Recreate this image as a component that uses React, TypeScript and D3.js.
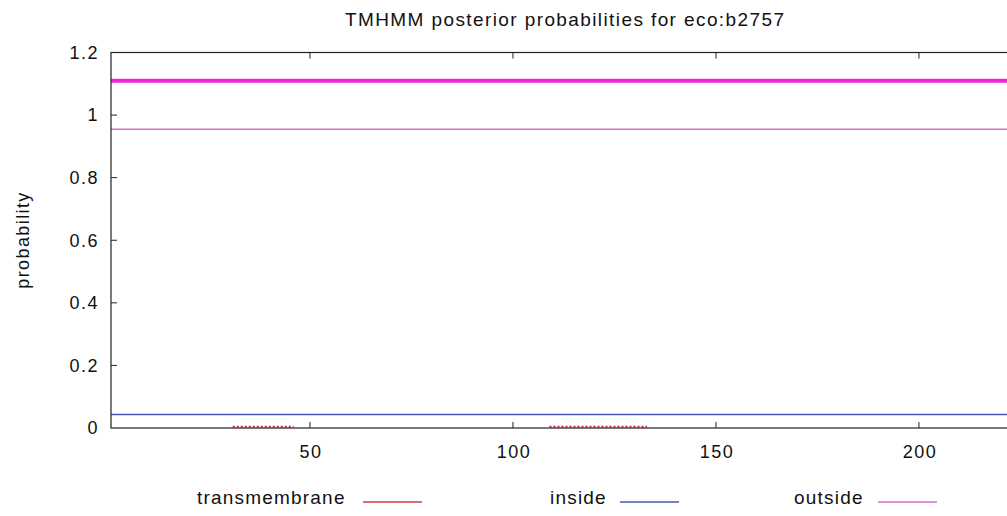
import React, { useEffect, useRef } from "react";
import * as d3 from "d3";

// residue ranges and probabilities
const xTicks = [50, 100, 150, 200];
const yTicks = [0, 0.2, 0.4, 0.6, 0.8, 1, 1.2];
const seqStart = 1;
const seqEnd = 225;

const outsideTopBar = [{ from: 1, to: 225, p: 1.11 }];
const outsideProb = [{ from: 1, to: 225, p: 0.955 }];
const insideProb = [{ from: 1, to: 225, p: 0.043 }];
const tmProb = [
  { from: 31, to: 46, p: 0.004 },
  { from: 109, to: 133, p: 0.004 },
];

const legendItems = [
  { label: "transmembrane", color: "#d23a48", start: 197, lineStart: 363 },
  { label: "inside", color: "#4a58b0", start: 550, lineStart: 620 },
  { label: "outside", color: "#d86ad4", start: 794, lineStart: 878 },
];

const App = () => {
  const ref = useRef<SVGSVGElement>(null);

  useEffect(() => {
    const svg = d3.select(ref.current);
    svg.selectAll("*").remove();

    const width = 1007;
    const height = 516;
    const margin = { top: 52.5, left: 111, bottom: 428 };

    const x = d3.scaleLinear().domain([seqStart, seqEnd]).range([margin.left, margin.left + (seqEnd - seqStart) * 4.06]);
    const y = d3.scaleLinear().domain([0, 1.2]).range([margin.bottom, margin.top]);

    svg.attr("width", width).attr("height", height);
    const font = "'Liberation Sans', Arial, sans-serif";

    // title
    svg.append("text")
      .attr("x", 345).attr("y", 26)
      .style("font-family", font).style("font-size", "19px").style("letter-spacing", "1.4px")
      .style("fill", "#111")
      .text("TMHMM posterior probabilities for eco:b2757");

    // y label
    svg.append("text")
      .attr("transform", "translate(29,240) rotate(-90)")
      .attr("text-anchor", "middle")
      .style("font-family", font).style("font-size", "18px").style("letter-spacing", "1.4px")
      .style("fill", "#111")
      .text("probability");

    const plot = svg.append("g");

    const drawSeg = (data, color, w, dash) => {
      plot.selectAll(null)
        .data(data)
        .enter()
        .append("line")
        .attr("x1", d => x(d.from)).attr("x2", d => x(d.to))
        .attr("y1", d => y(d.p)).attr("y2", d => y(d.p))
        .attr("stroke", color).attr("stroke-width", w)
        .attr("stroke-dasharray", dash || null);
    };

    drawSeg(outsideTopBar, "#ea24dc", 4, null);
    drawSeg(outsideProb, "#d86ad4", 1.5, null);
    drawSeg(insideProb, "#4a58b0", 1.5, null);
    drawSeg(tmProb, "#c8283a", 2, "2,2");

    // frame
    plot.append("rect")
      .attr("x", x(seqStart)).attr("y", y(1.2))
      .attr("width", x(seqEnd) - x(seqStart)).attr("height", y(0) - y(1.2))
      .attr("fill", "none").attr("stroke", "#222").attr("stroke-width", 1.2);

    // y axis ticks + labels
    yTicks.forEach(t => {
      if (t > 0 && t < 1.2) {
        plot.append("line")
          .attr("x1", x(seqStart)).attr("x2", x(seqStart) + 6)
          .attr("y1", y(t)).attr("y2", y(t))
          .attr("stroke", "#222");
      }
      svg.append("text")
        .attr("x", 99).attr("y", y(t)).attr("dy", "0.35em")
        .attr("text-anchor", "end")
        .style("font-family", font).style("font-size", "18px").style("letter-spacing", "1.5px")
        .style("fill", "#111")
        .text(d3.format("~g")(t));
    });

    // x axis ticks + labels (mirrored on top)
    xTicks.forEach(t => {
      plot.append("line")
        .attr("x1", x(t)).attr("x2", x(t))
        .attr("y1", y(0)).attr("y2", y(0) - 6)
        .attr("stroke", "#222");
      plot.append("line")
        .attr("x1", x(t)).attr("x2", x(t))
        .attr("y1", y(1.2)).attr("y2", y(1.2) + 6)
        .attr("stroke", "#222");
      svg.append("text")
        .attr("x", x(t) + 1).attr("y", 458)
        .attr("text-anchor", "middle")
        .style("font-family", font).style("font-size", "18px").style("letter-spacing", "1.5px")
        .style("fill", "#111")
        .text(t);
    });

    // legend
    legendItems.forEach(d => {
      svg.append("text")
        .attr("x", d.start).attr("y", 504)
        .style("font-family", font).style("font-size", "19px").style("letter-spacing", "1.2px")
        .style("fill", "#111")
        .text(d.label);
      svg.append("line")
        .attr("x1", d.lineStart).attr("x2", d.lineStart + 59)
        .attr("y1", 502).attr("y2", 502)
        .attr("stroke", d.color).attr("stroke-width", 1.5);
    });
  }, []);

  return <svg ref={ref} style={{ position: "absolute", left: 0, top: 0, background: "#fff" }} />;
};

export default App;
